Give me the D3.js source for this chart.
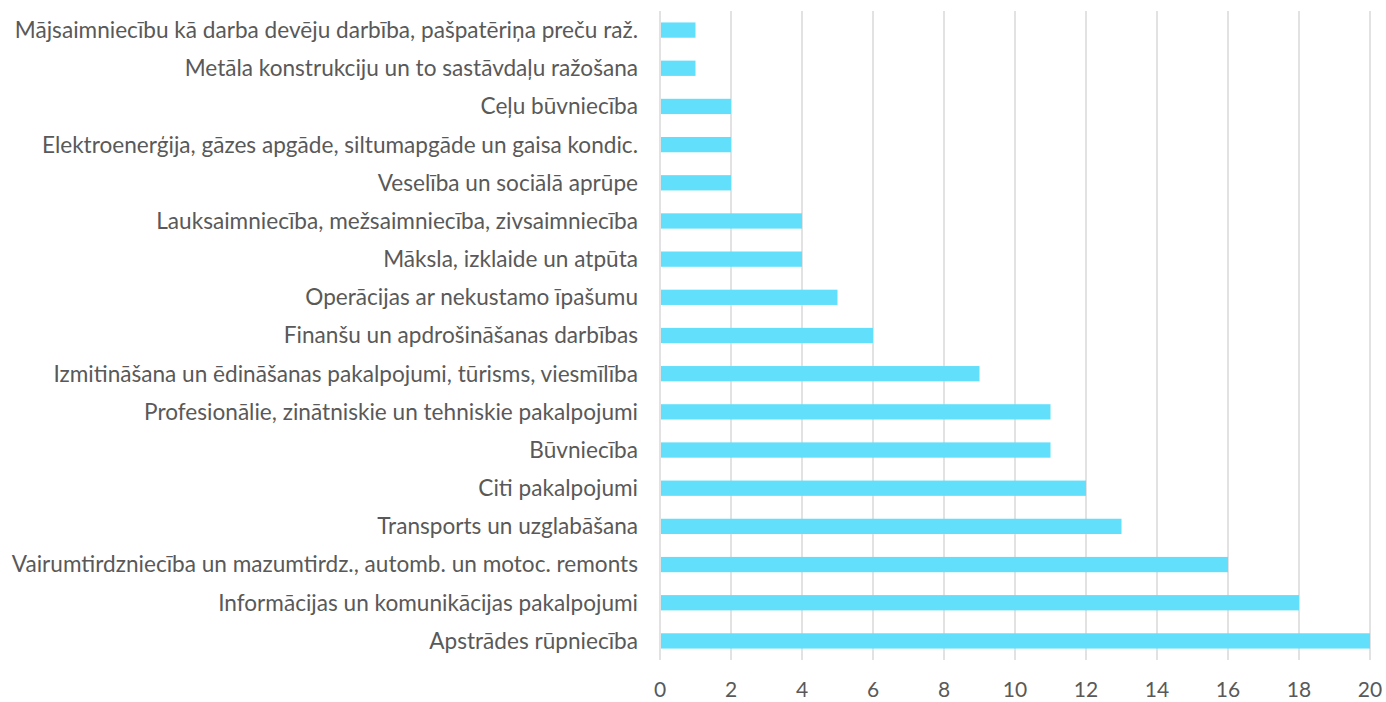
<!DOCTYPE html>
<html>
<head>
<meta charset="utf-8">
<script src="https://cdn.jsdelivr.net/npm/d3@7"></script>
<style>
  body { margin: 0; background: #fff; }
  text { font-family: Lato, "Open Sans", sans-serif; fill: #595959; }
</style>
</head>
<body>
<svg width="1386" height="702"></svg>
<script>
var categories = [
  "Mājsaimniecību kā darba devēju darbība, pašpatēriņa preču raž.",
  "Metāla konstrukciju un to sastāvdaļu ražošana",
  "Ceļu būvniecība",
  "Elektroenerģija, gāzes apgāde, siltumapgāde un gaisa kondic.",
  "Veselība un sociālā aprūpe",
  "Lauksaimniecība, mežsaimniecība, zivsaimniecība",
  "Māksla, izklaide un atpūta",
  "Operācijas ar nekustamo īpašumu",
  "Finanšu un apdrošināšanas darbības",
  "Izmitināšana un ēdināšanas pakalpojumi, tūrisms, viesmīlība",
  "Profesionālie, zinātniskie un tehniskie pakalpojumi",
  "Būvniecība",
  "Citi pakalpojumi",
  "Transports un uzglabāšana",
  "Vairumtirdzniecība un mazumtirdz., automb. un motoc. remonts",
  "Informācijas un komunikācijas pakalpojumi",
  "Apstrādes rūpniecība"
];
var values = [1, 1, 2, 2, 2, 4, 4, 5, 6, 9, 11, 11, 12, 13, 16, 18, 20];
var xTicks = [0, 2, 4, 6, 8, 10, 12, 14, 16, 18, 20];

var svg = d3.select("svg");
var plotLeft = 660, plotRight = 1370, plotTop = 11, plotBottom = 660;

var x = d3.scaleLinear().domain([0, 20]).range([plotLeft, plotRight]);
var y = d3.scaleBand().domain(categories).range([plotTop, plotBottom]).paddingInner(0.6).paddingOuter(0.3);

// gridlines
svg.append("g")
  .selectAll("line")
  .data(xTicks)
  .enter().append("line")
    .attr("x1", function(d) { return x(d); })
    .attr("x2", function(d) { return x(d); })
    .attr("y1", plotTop)
    .attr("y2", plotBottom)
    .attr("stroke", "#d9d9d9")
    .attr("stroke-width", 1.5);

// bars
svg.append("g")
  .selectAll("rect")
  .data(values)
  .enter().append("rect")
    .attr("x", x(0) + 1)
    .attr("y", function(d, i) { return y(categories[i]); })
    .attr("width", function(d) { return x(d) - x(0) - 1; })
    .attr("height", y.bandwidth())
    .attr("fill", "#62dffb");

// category labels
svg.append("g")
  .selectAll("text")
  .data(categories)
  .enter().append("text")
    .attr("x", plotLeft - 22)
    .attr("y", function(d) { return y(d) + y.bandwidth() / 2; })
    .attr("dy", "0.35em")
    .attr("text-anchor", "end")
    .attr("font-size", 22.6)
    .text(function(d) { return d; });

// x tick labels
svg.append("g")
  .selectAll("text")
  .data(xTicks)
  .enter().append("text")
    .attr("x", function(d) { return x(d); })
    .attr("y", 690)
    .attr("dy", "0.35em")
    .attr("text-anchor", "middle")
    .attr("font-size", 21)
    .text(function(d) { return d; });
</script>
</body>
</html>
